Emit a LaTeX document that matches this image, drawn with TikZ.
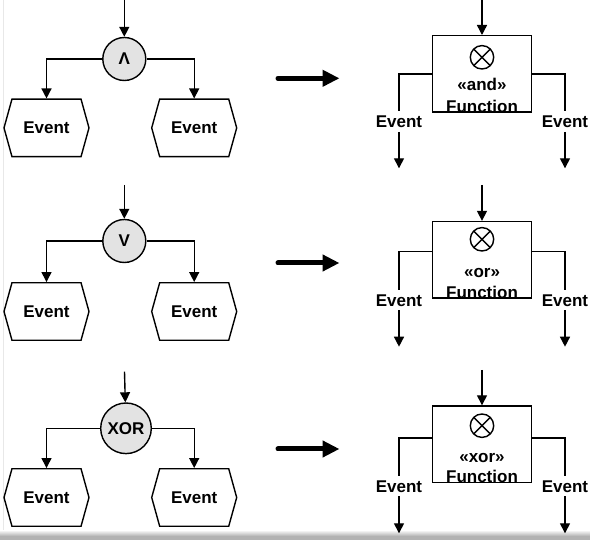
\documentclass[tikz,border=0pt]{standalone}
\usepackage{fontspec}
\setmainfont{Liberation Sans}
\usetikzlibrary{arrows.meta,shapes.symbols,calc}

\begin{document}
\begin{tikzpicture}[x=1pt,y=-1pt,line width=1.4pt,
  lblfont/.style={font=\bfseries\fontsize{17}{20}\selectfont},
  flow/.style={-{Triangle[length=10pt,width=10pt]}},
  gate/.style={circle,draw,fill=gray!22,minimum size=43pt,inner sep=0pt,lblfont},
  evt/.style={signal,signal to=west and east,signal pointer angle=149,draw,
    minimum width=85pt,minimum height=57.5pt,inner sep=0pt,lblfont},
  func/.style={draw,minimum width=99.4pt,minimum height=76.3pt,inner sep=0pt},
  xop/.style={circle,draw,minimum size=23.4pt,inner sep=0pt,
    path picture={\draw (path picture bounding box.north west) -- (path picture bounding box.south east)
                        (path picture bounding box.north east) -- (path picture bounding box.south west);}},
  lbl/.style={lblfont,inner sep=0pt,text height=12.2pt,text depth=0pt},
  outlbl/.style={lbl,inner ysep=3.5pt},
  big/.style={line width=5pt,line cap=round,-{Triangle[length=17pt,width=16pt]}}]

\useasboundingbox (0,0) rectangle (590,540);

% page edge and drop shadow
\draw[gray!18,line width=1pt] (3.5,0) -- (3.5,532);
\shade[top color=white,bottom color=gray!60] (0,530) rectangle (590,536);
\fill[gray!60] (0,536) rectangle (590,540);

% ---------- row 1: AND ----------
\coordinate (in1) at (124.3,0);
\node[gate] (g1) at (124.3,59) {Λ};
\node[evt] (e1a) at (46.5,127.9) {Event};
\node[evt] (e1b) at (194.2,127.9) {Event};
\draw[flow] (in1) -- (g1);
\draw[flow] (g1.west) -| (e1a.north);
\draw[flow] (g1.east) -| (e1b.north);

\coordinate (b1s) at (278,78.3);
\coordinate (b1e) at (339.5,78.3);
\draw[big] (b1s) -- (b1e);

\coordinate (fin1) at (482,0);
\node[func] (f1) at (482,73.85) {};
\node[xop] (x1) at (482,57.3) {};
\node[lbl] (k1) at (482,84.3) {«and»};
\node[lbl] (n1) at (482,106) {Function};
\node[outlbl] (l1a) at (399,121.7) {Event};
\node[outlbl] (l1b) at (565,121.7) {Event};
\coordinate (t1a) at (399,168.3);
\coordinate (t1b) at (565,168.3);
\draw[flow] (fin1) -- (f1.north);
\draw (f1.west) -| (l1a.north);
\draw (f1.east) -| (l1b.north);
\draw[flow] (l1a.south) -- (t1a);
\draw[flow] (l1b.south) -- (t1b);

% ---------- row 2: OR ----------
\coordinate (in2) at (124.3,185);
\node[gate] (g2) at (124.3,241) {V};
\node[evt] (e2a) at (46.5,311.5) {Event};
\node[evt] (e2b) at (194.2,311.5) {Event};
\draw[flow] (in2) -- (g2);
\draw[flow] (g2.west) -| (e2a.north);
\draw[flow] (g2.east) -| (e2b.north);

\coordinate (b2s) at (278,263);
\coordinate (b2e) at (339.5,263);
\draw[big] (b2s) -- (b2e);

\coordinate (fin2) at (482,185);
\node[func] (f2) at (482,259.7) {};
\node[xop] (x2) at (482,239.3) {};
\node[lbl] (k2) at (482,271.7) {«or»};
\node[lbl] (n2) at (482,292.3) {Function};
\node[outlbl] (l2a) at (399,300) {Event};
\node[outlbl] (l2b) at (565,300) {Event};
\coordinate (t2a) at (399,346.7);
\coordinate (t2b) at (565,346.7);
\draw[flow] (fin2) -- (f2.north);
\draw ([yshift=8pt]f2.west) -| (l2a.north);
\draw ([yshift=8pt]f2.east) -| (l2b.north);
\draw[flow] (l2a.south) -- (t2a);
\draw[flow] (l2b.south) -- (t2b);

% ---------- row 3: XOR ----------
\coordinate (in3) at (124.5,371.7);
\node[gate,minimum size=50.6pt] (g3) at (126,428.3) {XOR};
\node[evt] (e3a) at (46.5,497.5) {Event};
\node[evt] (e3b) at (194.2,497.5) {Event};
\draw[flow] (in3) -- (g3);
\draw[flow] (g3.west) -| (e3a.north);
\draw[flow] (g3.east) -| (e3b.north);

\coordinate (b3s) at (278,449);
\coordinate (b3e) at (339.5,449);
\draw[big] (b3s) -- (b3e);

\coordinate (fin3) at (482,370);
\node[func] (f3) at (482,444.15) {};
\node[xop] (x3) at (482,425.7) {};
\node[lbl] (k3) at (482,456.7) {«xor»};
\node[lbl] (n3) at (482,476) {Function};
\node[outlbl] (l3a) at (399,486) {Event};
\node[outlbl] (l3b) at (565,486) {Event};
\coordinate (t3a) at (399,533.3);
\coordinate (t3b) at (565,533.3);
\draw[flow] (fin3) -- (f3.north);
\draw ([yshift=6pt]f3.west) -| (l3a.north);
\draw ([yshift=6pt]f3.east) -| (l3b.north);
\draw[flow] (l3a.south) -- (t3a);
\draw[flow] (l3b.south) -- (t3b);
\end{tikzpicture}
\end{document}
